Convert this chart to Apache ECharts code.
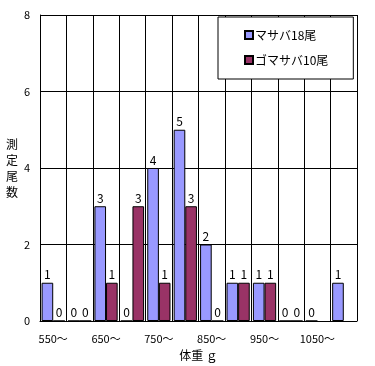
<!DOCTYPE html>
<html><head><meta charset="utf-8">
<script src="https://cdn.jsdelivr.net/npm/echarts@6/dist/echarts.min.js"></script>
<style>html,body{margin:0;padding:0;background:#fff}#c{width:375px;height:366px}</style>
</head><body><div id="c"></div>
<script>
const categories = ['550～','600～','650～','700～','750～','800～','850～','900～','950～','1000～','1050～','1100～'];
const masaba = [1,0,3,0,4,5,2,1,1,0,0,1];
const gomasaba = [0,0,1,3,1,3,0,1,1,0,null,null];
const seriesNames = ['マサバ18尾','ゴマサバ10尾'];
const yTicks = {min:0,max:8,interval:2};

const font = '"Noto Sans CJK JP", "Noto Sans", sans-serif';
const chart = echarts.init(document.getElementById('c'));
const lbl = {show:true, position:'top', distance:2, color:'#000', fontSize:12, fontFamily:font};
chart.setOption({
  animation:false,
  backgroundColor:'#fff',
  grid:{left:40,right:18,top:15,bottom:45},
  legend:{
    orient:'vertical', left:218, top:17,
    backgroundColor:'#fff', borderColor:'#000', borderWidth:1,
    padding:[12,25,13,26], itemGap:13,
    itemWidth:8, itemHeight:8, icon:'rect',
    textStyle:{color:'#000', fontSize:12, fontFamily:font, padding:[0,0,0,-3]},
    data:seriesNames
  },
  xAxis:{
    type:'category', data:categories,
    name:'体重 ｇ', nameLocation:'middle', nameGap:28,
    nameTextStyle:{color:'#000', fontSize:12, fontFamily:font},
    axisLine:{lineStyle:{color:'#000'}},
    axisTick:{show:false},
    axisLabel:{interval:1, color:'#000', fontSize:11, fontFamily:font, margin:12},
    splitLine:{show:true, interval:0, lineStyle:{color:'#000', width:1}}
  },
  yAxis:{
    type:'value', min:yTicks.min, max:yTicks.max, interval:yTicks.interval,
    name:'測\n定\n尾\n数', nameLocation:'middle', nameRotate:0, nameGap:19,
    nameTextStyle:{color:'#000', fontSize:12, lineHeight:16, fontFamily:font, padding:[4,0,0,0]},
    axisLine:{show:true, lineStyle:{color:'#000'}},
    axisTick:{show:false},
    axisLabel:{color:'#000', fontSize:11, fontFamily:font, margin:10},
    splitLine:{lineStyle:{color:'#000', width:1}}
  },
  series:[
    {name:seriesNames[0], type:'bar', data:masaba, barGap:'0%', barCategoryGap:'12%',
     itemStyle:{color:'#9999FF', borderColor:'#000', borderWidth:1}, label:lbl},
    {name:seriesNames[1], type:'bar', data:gomasaba,
     itemStyle:{color:'#993366', borderColor:'#000', borderWidth:1}, label:lbl}
  ]
});
</script></body></html>
